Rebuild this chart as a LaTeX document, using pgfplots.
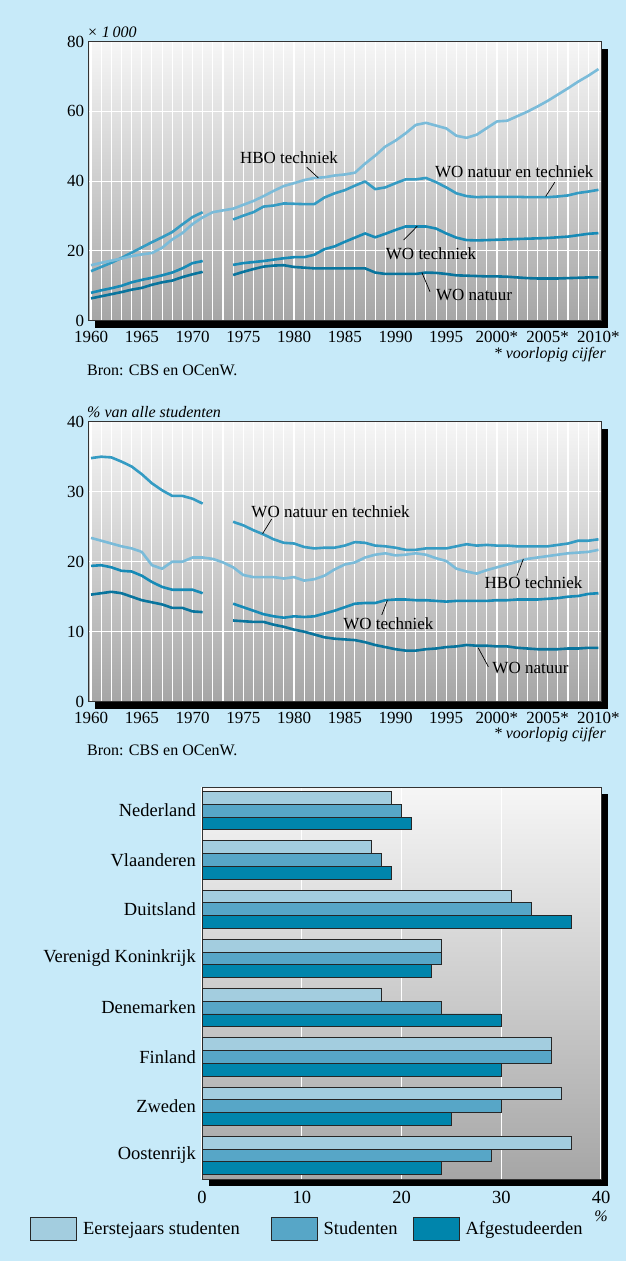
\documentclass[border=0pt]{standalone}
\usepackage{pgfplots}
\pgfplotsset{compat=1.18}
\usepackage{pgfplotstable}
\usepackage{fontspec}
\setmainfont{Liberation Serif}

\definecolor{bg}{RGB}{199,234,249}
\definecolor{gtop}{RGB}{246,246,246}
\definecolor{gbot}{RGB}{166,166,166}
\definecolor{chbo}{RGB}{122,187,217}
\definecolor{cwont}{RGB}{52,155,195}
\definecolor{cwot}{RGB}{22,138,182}
\definecolor{cwon}{RGB}{8,116,157}
\definecolor{bone}{RGB}{163,205,223}
\definecolor{btwo}{RGB}{87,166,199}
\definecolor{bthree}{RGB}{0,133,172}

% absolute numbers (x 1000)
\pgfplotstableread{
year hbo wont wot won
1960 15.9 14.2 8.0 6.4
1961 16.6 15.4 8.7 7.0
1962 17.2 16.6 9.3 7.6
1963 17.8 18.0 10.0 8.2
1964 18.5 19.5 11.0 8.9
1965 19.0 21.0 11.7 9.4
1966 19.4 22.5 12.3 10.3
1967 20.9 23.9 13.0 11.0
1968 23.3 25.4 13.8 11.5
1969 25.1 27.6 15.0 12.5
1970 27.7 29.7 16.5 13.3
1971 29.6 31.1 17.1 14.0
1972 31.1 nan nan nan
1973 31.6 nan nan nan
1974 32.1 29.0 16.0 13.1
1975 33.2 30.1 16.5 14.0
1976 34.3 31.1 16.8 14.8
1977 35.7 32.7 17.1 15.5
1978 37.2 33.0 17.5 15.8
1979 38.6 33.6 17.9 15.9
1980 39.4 33.5 18.2 15.4
1981 40.3 33.4 18.2 15.2
1982 40.9 33.4 18.9 15.0
1983 41.1 35.3 20.5 15.0
1984 41.6 36.5 21.3 15.0
1985 41.9 37.4 22.6 15.0
1986 42.4 38.7 23.8 15.0
1987 45.0 39.9 25.0 15.0
1988 47.3 37.7 23.9 13.8
1989 49.9 38.2 24.9 13.4
1990 51.6 39.4 26.0 13.4
1991 53.7 40.5 27.0 13.4
1992 56.1 40.5 27.0 13.4
1993 56.7 40.9 27.0 13.8
1994 55.9 39.7 26.4 13.7
1995 55.1 38.2 25.0 13.4
1996 53.0 36.5 23.8 13.0
1997 52.4 35.7 23.1 12.9
1998 53.3 35.4 23.0 12.8
1999 55.2 35.5 23.1 12.7
2000 57.1 35.5 23.2 12.7
2001 57.3 35.5 23.3 12.6
2002 58.6 35.5 23.4 12.4
2003 59.9 35.4 23.5 12.2
2004 61.4 35.4 23.6 12.1
2005 63.0 35.4 23.7 12.1
2006 64.8 35.6 23.9 12.1
2007 66.6 35.9 24.1 12.2
2008 68.5 36.6 24.5 12.3
2009 70.2 37.0 24.9 12.4
2010 72.1 37.5 25.1 12.4
}\tabA

% percentage of all students
\pgfplotstableread{
year wont hbo wot won
1960 34.8 23.4 19.4 15.3
1961 35.0 23.0 19.5 15.5
1962 34.9 22.6 19.2 15.7
1963 34.3 22.2 18.7 15.5
1964 33.6 21.9 18.6 15.0
1965 32.5 21.4 18.0 14.5
1966 31.2 19.5 17.1 14.2
1967 30.2 19.0 16.4 13.9
1968 29.4 20.0 16.0 13.4
1969 29.4 20.0 16.0 13.4
1970 29.0 20.6 16.0 12.9
1971 28.3 20.6 15.5 12.8
1972 nan 20.4 nan nan
1973 nan 19.9 nan nan
1974 25.7 19.2 14.0 11.6
1975 25.2 18.1 13.5 11.5
1976 24.5 17.8 13.0 11.4
1977 23.9 17.8 12.5 11.4
1978 23.2 17.8 12.2 11.0
1979 22.7 17.6 12.0 10.7
1980 22.6 17.8 12.2 10.3
1981 22.1 17.3 12.1 10.0
1982 21.9 17.5 12.2 9.6
1983 22.0 18.0 12.6 9.2
1984 22.0 18.9 13.0 9.0
1985 22.3 19.6 13.5 8.9
1986 22.8 19.9 14.0 8.8
1987 22.7 20.6 14.1 8.5
1988 22.3 21.0 14.1 8.1
1989 22.2 21.2 14.5 7.8
1990 22.0 20.9 14.6 7.5
1991 21.7 21.0 14.6 7.3
1992 21.7 21.2 14.5 7.3
1993 21.9 21.0 14.5 7.5
1994 21.9 20.5 14.4 7.6
1995 21.9 20.1 14.3 7.8
1996 22.2 19.0 14.4 7.9
1997 22.5 18.6 14.4 8.1
1998 22.3 18.3 14.4 8.0
1999 22.4 18.8 14.4 8.0
2000 22.3 19.2 14.5 7.9
2001 22.3 19.6 14.5 7.9
2002 22.2 20.0 14.6 7.7
2003 22.2 20.4 14.6 7.6
2004 22.2 20.6 14.6 7.5
2005 22.2 20.8 14.7 7.5
2006 22.4 21.0 14.8 7.5
2007 22.6 21.2 15.0 7.6
2008 23.0 21.3 15.1 7.6
2009 23.0 21.4 15.4 7.7
2010 23.2 21.7 15.5 7.7
}\tabB

% bar chart: country index, first-year, students, graduates
\pgfplotstableread{
idx eerst stud afg
0 19 20 21
1 17 18 19
2 31 33 37
3 24 24 23
4 18 24 30
5 35 35 30
6 36 30 25
7 37 29 24
}\tabC

\tikzset{
  lbl/.style={inner sep=0pt},
  lead/.style={draw=black, line width=0.7bp},
}
\pgfplotsset{
  linechart/.style={
    scale only axis, width=513bp,
    xmin=1959.7, xmax=2010.25, ymin=0,
    xtick={1960,1965,...,2010},
    xticklabels={1960,1965,1970,1975,1980,1985,1990,1995,2000*,2005*,2010*},
    minor x tick num=4,
    grid=both,
    major grid style={white, line width=1.1bp},
    minor grid style={white, line width=1.1bp},
    tick style={draw=none},
    axis line style={draw=black!80, line width=1bp},
    axis background/.style={top color=gtop, bottom color=gbot},
    unbounded coords=jump,
    /pgf/number format/assume math mode=true,
    xticklabel style={yshift=-5bp},
    yticklabel style={xshift=2bp},
    every axis plot/.append style={line width=2.6bp, no marks, line join=round},
  },
}

\begin{document}
\fontsize{17bp}{20bp}\selectfont
\begin{tikzpicture}
\fill[bg] (0,0) rectangle (626bp,-1261bp);
\useasboundingbox (0,0) rectangle (626bp,-1261bp);
% drop shadows
\fill[black] (95bp,-48.5bp) rectangle (608bp,-327.7bp);
\fill[black] (95bp,-428.5bp) rectangle (608bp,-708.7bp);
\fill[black] (209bp,-794bp) rectangle (608bp,-1186bp);

% ---------- chart 1 ----------
\begin{axis}[linechart, at={(88bp,-320.7bp)}, anchor=south west,
  height=279.2bp, ymax=80, ytick={0,20,...,80}]
\addplot[cwon] table[x=year,y=won]{\tabA};
\addplot[cwot] table[x=year,y=wot]{\tabA};
\addplot[cwont] table[x=year,y=wont]{\tabA};
\addplot[chbo] table[x=year,y=hbo]{\tabA};
\node[lbl] at (axis cs:1979.5,46.6) {HBO techniek};
\draw[lead] (axis cs:1981.25,44.0) -- (axis cs:1982.4,40.9);
\node[lbl] at (axis cs:2001.7,42.8) {WO natuur en techniek};
\draw[lead] (axis cs:2005.7,39.7) -- (axis cs:2004.8,35.6);
\node[lbl] at (axis cs:1993.5,19.3) {WO techniek};
\draw[lead] (axis cs:1990.8,23.1) -- (axis cs:1992.15,27.1);
\node[lbl] at (axis cs:1997.75,7.5) {WO natuur};
\draw[lead] (axis cs:1993.4,8.3) -- (axis cs:1992.6,13.8);
\end{axis}
\node[anchor=base west, inner sep=0pt, font=\itshape\fontsize{16bp}{19bp}\selectfont] at (87bp,-37bp) {× 1\,000};
\node[anchor=east, inner sep=0pt, font=\itshape\fontsize{16bp}{19bp}\selectfont] at (606bp,-355bp) {* voorlopig cijfer};
\node[anchor=west, inner sep=0pt, font=\fontsize{16bp}{19bp}\selectfont] at (87bp,-370bp) {Bron: CBS en OCenW.};

% ---------- chart 2 ----------
\begin{axis}[linechart, at={(88bp,-701.7bp)}, anchor=south west,
  height=280bp, ymax=40, ytick={0,10,...,40}]
\addplot[cwon] table[x=year,y=won]{\tabB};
\addplot[cwot] table[x=year,y=wot]{\tabB};
\addplot[chbo] table[x=year,y=hbo]{\tabB};
\addplot[cwont] table[x=year,y=wont]{\tabB};
\node[lbl] at (axis cs:1983.6,27.1) {WO natuur en techniek};
\draw[lead] (axis cs:1977.8,26.1) -- (axis cs:1976.9,24.0);
\node[lbl] at (axis cs:2003.6,17.0) {HBO techniek};
\draw[lead] (axis cs:2001.95,17.9) -- (axis cs:2002.6,20.4);
\node[lbl] at (axis cs:1989.3,11.2) {WO techniek};
\draw[lead] (axis cs:1988.65,12.4) -- (axis cs:1989.2,14.5);
\node[lbl] at (axis cs:2003.3,4.8) {WO natuur};
\draw[lead] (axis cs:1999.15,5.0) -- (axis cs:1998.15,7.7);
\end{axis}
\node[anchor=base west, inner sep=0pt, font=\itshape\fontsize{16bp}{19bp}\selectfont] at (87bp,-417bp) {\% van alle studenten};
\node[anchor=east, inner sep=0pt, font=\itshape\fontsize{16bp}{19bp}\selectfont] at (606bp,-735bp) {* voorlopig cijfer};
\node[anchor=west, inner sep=0pt, font=\fontsize{16bp}{19bp}\selectfont] at (87bp,-750bp) {Bron: CBS en OCenW.};

% ---------- bar chart ----------
\begin{axis}[at={(202bp,-1179bp)}, anchor=south west,
  scale only axis, width=399bp, height=392bp,
  font=\fontsize{18.5bp}{22bp}\selectfont,
  xbar, xmin=0, xmax=40, ymin=-0.48, ymax=7.48, y dir=reverse,
  ytick={0,...,7},
  yticklabels={Nederland,Vlaanderen,Duitsland,Verenigd Koninkrijk,Denemarken,Finland,Zweden,Oostenrijk},
  xtick={0,10,20,30,40},
  xmajorgrids, major grid style={white, line width=1.1bp},
  tick style={draw=none},
  axis line style={draw=black!80, line width=1bp},
  axis background/.style={top color=gtop, bottom color=gbot},
  /pgf/number format/assume math mode=true,
  xticklabel style={yshift=-6bp},
  yticklabel style={xshift=4bp},
  bar width=0.258,
  legend columns=3,
  legend cell align=left,
  legend image code/.code={\draw[#1, draw=black!85, line width=0.9bp] (0bp,-11.5bp) rectangle (46bp,11.5bp);},
  legend style={at={(0,0)}, anchor=north west, xshift=-172bp, yshift=-38bp,
    draw=none, fill=none, inner sep=0pt,
    /tikz/every odd column/.append style={column sep=6bp},
    /tikz/every even column/.append style={column sep=15bp},
    nodes={inner sep=0pt}},
]
\addplot[fill=bone, draw=black!85, line width=0.8bp, bar shift=-0.258] table[x=eerst,y=idx]{\tabC};
\addplot[fill=btwo, draw=black!85, line width=0.8bp, bar shift=0] table[x=stud,y=idx]{\tabC};
\addplot[fill=bthree, draw=black!85, line width=0.8bp, bar shift=0.258] table[x=afg,y=idx]{\tabC};
\legend{Eerstejaars studenten\rule{16bp}{0pt},Studenten,Afgestudeerden}
\end{axis}
\node[inner sep=0pt, font=\itshape\fontsize{16bp}{19bp}\selectfont] at (601bp,-1216bp) {\%};
\end{tikzpicture}
\end{document}
